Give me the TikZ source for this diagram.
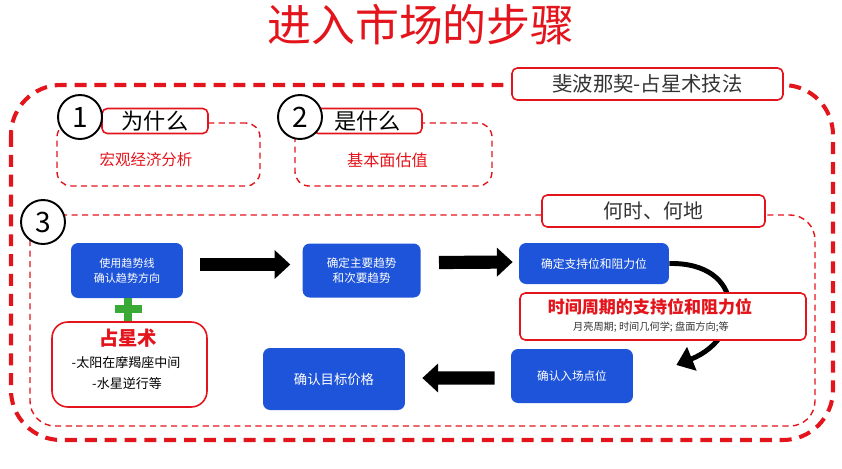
\documentclass[tikz,border=0pt]{standalone}
\usepackage{fontspec}
\setmainfont{Noto Sans CJK SC}
\usepackage{tikz}
\usetikzlibrary{arrows.meta,positioning}
\definecolor{mred}{HTML}{E3141B}
\definecolor{mblue}{HTML}{1E54D9}
\definecolor{mgreen}{HTML}{3AA935}
\definecolor{mgray}{HTML}{333333}
\newcommand{\fs}[1]{\fontsize{#1}{#1}\selectfont}
\newcommand{\fsl}[2]{\fontsize{#1}{#2}\selectfont}

\begin{document}
\begin{tikzpicture}[x=0.02cm, y=-0.02cm,
  bluebox/.style={fill=mblue, rounded corners=4pt, text=white, align=center, inner sep=0pt},
  tagbox/.style={draw=mred, line width=0.9pt, fill=white, rounded corners=3pt, text=mgray, inner sep=0pt},
  numcirc/.style={circle, draw=black, line width=1.1pt, fill=white, minimum size=0.88cm, inner sep=0pt, font=\fs{16}},
  subdash/.style={draw=mred, line width=0.8pt, dash pattern=on 3.5pt off 2.5pt, rounded corners=8pt, inner sep=0pt},
  fatarr/.style={-{Triangle[length=9pt,width=16pt]}, line width=7.5pt},
  bendarr/.style={-{Triangle[length=9.5pt,width=14pt]}, line width=2.8pt}
]
  \useasboundingbox (0,0) rectangle (842,468);

  \node[text=mred, font=\fs{25}] (title) at (421,25) {进入市场的步骤};

  % frames
  \draw[mred, line width=2.3pt, dash pattern=on 6.8pt off 4.5pt, rounded corners=1cm] (11,85) rectangle (833,440);
  \draw[mred, line width=0.8pt, dash pattern=on 3.5pt off 2.5pt, rounded corners=0.5cm] (30,215) rectangle (815,426);
  \node[tagbox, minimum width=5.42cm, minimum height=0.64cm, font=\fs{11.6}] (fib) at (647.5,84) {斐波那契-占星术技法};
  \node[tagbox, minimum width=4.46cm, minimum height=0.64cm, font=\fs{11.3}] (when) at (653.5,211) {何时、何地};

  % step 1 and 2
  \node[subdash, minimum width=4.06cm, minimum height=1.26cm] (whybody) at (158.5,154.5) {};
  \node[text=mred, font=\fs{8.8}] (macro) at (146,160) {宏观经济分析};
  \node[tagbox, minimum width=2.12cm, minimum height=0.5cm, font=\fs{12.6}, text=black] (why) at (155,121) {为什么};
  \node[numcirc] (one) at (80,117) {1};

  \node[subdash, minimum width=3.94cm, minimum height=1.26cm] (whatbody) at (393.5,154.5) {};
  \node[text=mred, font=\fs{9.2}] (value) at (387.5,160) {基本面估值};
  \node[tagbox, minimum width=2.18cm, minimum height=0.5cm, font=\fs{12.6}, text=black] (what) at (367.5,121) {是什么};
  \node[numcirc] (two) at (300,117) {2};

  \node[numcirc] (three) at (43,222) {3};

  % step 3
  \node[bluebox, minimum width=2.24cm, minimum height=1.1cm, font=\fsl{6.3}{8.5}] (trend) at (127,270.5) {使用趋势线\\确认趋势方向};
  \node[bluebox, minimum width=2.36cm, minimum height=1.08cm, font=\fsl{6.6}{8.5}, right=2.38cm of trend] (main) {确定主要趋势\\和次要趋势};
  \node[bluebox, minimum width=3.0cm, minimum height=0.82cm, font=\fs{6.7}] (level) at (594,263.5) {确定支持位和阻力位};
  \node[bluebox, minimum width=2.44cm, minimum height=1.08cm, font=\fs{6.6}] (entry) at (572,376) {确认入场点位};
  \node[bluebox, minimum width=2.84cm, minimum height=1.24cm, font=\fs{7.6}] (target) at (334,379) {确认目标价格};

  \draw[fatarr] ([xshift=0.34cm,yshift=0.12cm]trend.east) -- ([xshift=-0.24cm,yshift=0.12cm]main.west);
  \draw[fatarr] ([xshift=0.36cm,yshift=0.16cm]main.east) -- ([xshift=-0.12cm,yshift=0.03cm]level.west);
  \draw[fatarr] ([xshift=-0.32cm,yshift=-0.04cm]entry.west) -- ([xshift=0.34cm,yshift=0.02cm]target.east);
  \draw[bendarr] (level.east) .. controls +(76,-1.5) and +(70,-28) .. ([xshift=0.86cm,yshift=0.22cm]entry.east);

  \node[tagbox, minimum width=5.72cm, minimum height=0.94cm] (cycle) at (663,316.5) {};
  \node[text=mred, font=\bfseries\fs{9.7}] (cyclehead) at (650,307) {时间周期的支持位和阻力位};
  \node[text=mgray, font=\fs{5.8}] (cyclenote) at (651,327) {月亮周期; 时间几何学; 盘面方向;等};

  \draw[mgreen, line width=4.5pt] (115,309) -- (142,309) (128,298) -- (128,321);
  \node[draw=mred, line width=0.9pt, fill=white, rounded corners=9pt, minimum width=3.1cm, minimum height=1.7cm] (astro) at (129.5,364.5) {};
  \node[text=mred, font=\bfseries\fs{11}] (astrohead) at (128,338) {占星术};
  \node[font=\fs{7.4}] (sun) at (126,363) {-太阳在摩羯座中间};
  \node[font=\fs{7.4}] (mercury) at (127,384) {-水星逆行等};
\end{tikzpicture}
\end{document}
